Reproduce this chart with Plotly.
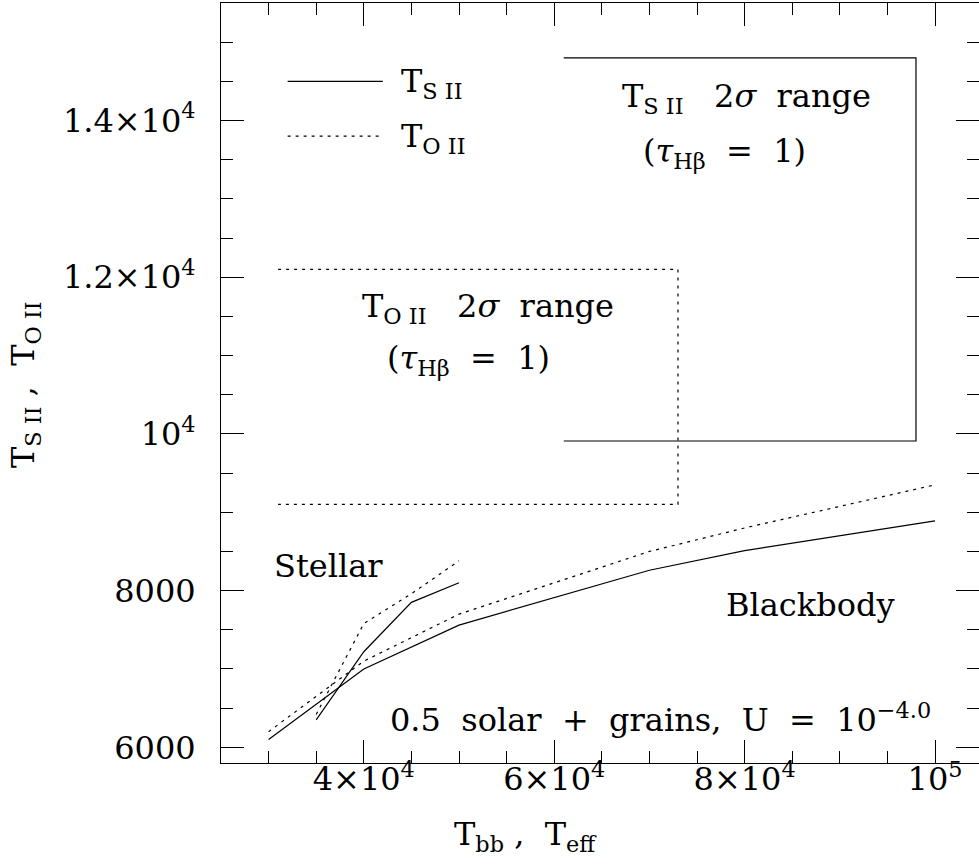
import plotly.graph_objects as go

# ---------------- data ----------------
bb_T = [30000, 40000, 50000, 70000, 80000, 100000]
bb_SII = [6100, 7000, 7560, 8260, 8510, 8890]
bb_OII = [6200, 7100, 7700, 8500, 8800, 9350]

st_T = [35000, 40000, 45000, 50000]
st_SII = [6350, 7220, 7850, 8100]
st_OII = [6420, 7580, 7960, 8380]

sii_range = [9910, 14800]
sii_range_T = [61000, 98000]
oii_range = [9100, 12100]
oii_range_T = [31000, 73000]

x_tickvals = [40000, 60000, 80000, 100000]
x_ticktext = ["4×10<sup>4</sup>", "6×10<sup>4</sup>", "8×10<sup>4</sup>", "10<sup>5</sup>"]
y_tickvals = [6000, 8000, 10000, 12000, 14000]
y_ticktext = ["6000", "8000", "10<sup>4</sup>", "1.2×10<sup>4</sup>", "1.4×10<sup>4</sup>"]

XR = [25000, 104620]
YR = [5800, 15500]

FONT = "DejaVu Serif"
FS = 32
DOT = "3px,5px"
NB = "\u00a0"

fig = go.Figure()

line_solid = dict(color="black", width=1.2)
line_dot = dict(color="black", width=1.2, dash=DOT)

fig.add_trace(go.Scatter(x=bb_T, y=bb_SII, mode="lines", line=line_solid))
fig.add_trace(go.Scatter(x=bb_T, y=bb_OII, mode="lines", line=line_dot))
fig.add_trace(go.Scatter(x=st_T, y=st_SII, mode="lines", line=line_solid))
fig.add_trace(go.Scatter(x=st_T, y=st_OII, mode="lines", line=line_dot))

# 2-sigma range boxes (open on the left)
fig.add_trace(go.Scatter(
    x=[sii_range_T[0], sii_range_T[1], sii_range_T[1], sii_range_T[0]],
    y=[sii_range[1], sii_range[1], sii_range[0], sii_range[0]],
    mode="lines", line=line_solid))
fig.add_trace(go.Scatter(
    x=[oii_range_T[0], oii_range_T[1], oii_range_T[1], oii_range_T[0]],
    y=[oii_range[1], oii_range[1], oii_range[0], oii_range[0]],
    mode="lines", line=line_dot))

# dummy traces so that the mirror axes exist
fig.add_trace(go.Scatter(x=[], y=[], xaxis="x2", yaxis="y", showlegend=False))
fig.add_trace(go.Scatter(x=[], y=[], xaxis="x", yaxis="y2", showlegend=False))

x_minor = [v for v in range(25000, 105001, 5000)]
y_minor = [v for v in range(5800, 15501, 100) if v % 500 == 0]

common = dict(showgrid=False, zeroline=False, ticks="inside", ticklen=23,
              tickwidth=1, tickcolor="black", linecolor="black", linewidth=1)

fig.update_layout(
    width=979, height=867,
    margin=dict(l=221, r=0, t=3, b=104, pad=0),
    paper_bgcolor="white", plot_bgcolor="white",
    showlegend=False,
    font=dict(family=FONT, size=FS, color="black"),
    xaxis=dict(range=XR, tickmode="array", tickvals=x_tickvals, ticktext=x_ticktext,
               showline=True, ticklabelstandoff=-12,
               minor=dict(tickmode="array", tickvals=x_minor, ticks="inside",
                          ticklen=12, tickcolor="black", tickwidth=1),
               **common),
    xaxis2=dict(range=XR, overlaying="x", side="top", anchor="y", tickmode="array",
                tickvals=x_tickvals, showticklabels=False, showline=True,
                minor=dict(tickmode="array", tickvals=x_minor, ticks="inside",
                           ticklen=12, tickcolor="black", tickwidth=1),
                **common),
    yaxis=dict(range=YR, tickmode="array", tickvals=y_tickvals, ticktext=y_ticktext,
               showline=True, ticklabelstandoff=18,
               minor=dict(tickmode="array", tickvals=y_minor, ticks="inside",
                          ticklen=12, tickcolor="black", tickwidth=1),
               **common),
    yaxis2=dict(range=YR, overlaying="y", side="right", anchor="x", tickmode="array",
                tickvals=y_tickvals, showticklabels=False, showline=False,
                minor=dict(tickmode="array", tickvals=y_minor, ticks="inside",
                           ticklen=12, tickcolor="black", tickwidth=1),
                **common),
)

# legend lines
fig.add_shape(type="line", xref="x", yref="y", x0=32000, x1=42000, y0=14500, y1=14500,
              line=line_solid)
fig.add_shape(type="line", xref="x", yref="y", x0=32000, x1=42000, y0=13800, y1=13800,
              line=line_dot)

def ann(text, x, y, xanchor="center", yanchor="middle", xref="x", yref="y", angle=0, size=FS):
    fig.add_annotation(text=text, x=x, y=y, xref=xref, yref=yref, xanchor=xanchor,
                       yanchor=yanchor, showarrow=False, textangle=angle,
                       font=dict(family=FONT, size=size, color="black"))

ann("T<sub>S II</sub>", 43700, 14480, xanchor="left")
ann("T<sub>O II</sub>", 43700, 13780, xanchor="left")

ann("T<sub>S II</sub>" + NB*3 + "2<i>σ</i>" + NB*2 + "range", 80180, 14290)
ann("(<i>τ</i><sub>Hβ</sub>" + NB*2 + "=" + NB*2 + "1)", 77860, 13580)
ann("T<sub>O II</sub>" + NB*3 + "2<i>σ</i>" + NB*2 + "range", 53085, 11610)
ann("(<i>τ</i><sub>Hβ</sub>" + NB*2 + "=" + NB*2 + "1)", 50980, 10940)

ann("Stellar", 36300, 8314)
ann("Blackbody", 86900, 7818)
ann("0.5" + NB*2 + "solar" + NB*2 + "+" + NB*2 + "grains," + NB*2 + "U" + NB*2 + "=" + NB*2
    + "10<sup>−4.0</sup>", 71140, 6380)

# axis titles
ann("T<sub>S II</sub>" + NB + "," + NB*2 + "T<sub>O II</sub>", (25 - 221) / 758, 1 - (385 - 3) / 760,
    xref="paper", yref="paper", angle=-90)
ann("T<sub>bb</sub>" + NB + "," + NB*2 + "T<sub>eff</sub>", (525 - 221) / 758, -(836 - 763) / 760,
    xref="paper", yref="paper")

fig.write_html("out.html")
